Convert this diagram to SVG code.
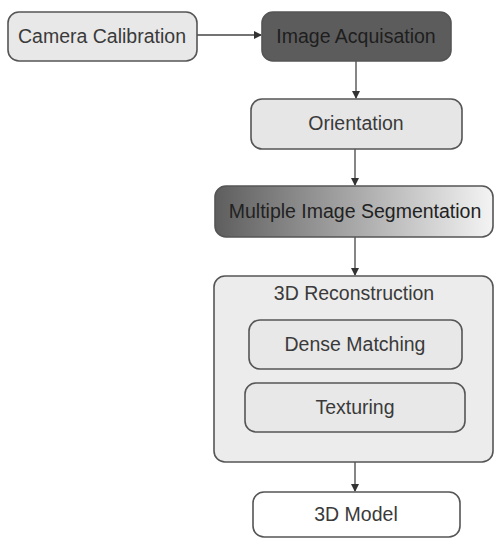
<svg xmlns="http://www.w3.org/2000/svg" width="494" height="538" viewBox="0 0 494 538">
<defs>
<linearGradient id="seg" x1="0" y1="0" x2="1" y2="0">
<stop offset="0" stop-color="#5e5e5e"/>
<stop offset="0.5" stop-color="#a8a8a8"/>
<stop offset="1" stop-color="#f4f4f4"/>
</linearGradient>
<marker id="ah" markerWidth="8" markerHeight="8" refX="7" refY="4" orient="auto" markerUnits="userSpaceOnUse">
<path d="M0,0 L8,4 L0,8 Z" fill="#333"/>
</marker>
<style>
.box{stroke:#555;stroke-width:1.6}
.t{font-family:"Liberation Sans",Arial,sans-serif;font-size:19.5px;fill:#3a3a3a;text-anchor:middle;dominant-baseline:central}
.c{stroke:#444;stroke-width:1.3;fill:none;marker-end:url(#ah)}
</style>
</defs>
<rect width="494" height="538" fill="#ffffff"/>
<g id="connectors">
<line class="c" x1="197" y1="35" x2="261" y2="35"/>
<line class="c" x1="356" y1="61" x2="356" y2="98"/>
<line class="c" x1="355" y1="149" x2="355" y2="185"/>
<line class="c" x1="355" y1="237" x2="355" y2="275"/>
<line class="c" x1="355" y1="462" x2="355" y2="491"/>
</g>
<g id="camera-calibration">
<rect class="box" x="8" y="12" width="189" height="49" rx="11" fill="#e8e8e8"/>
<text class="t" x="102" y="36">Camera Calibration</text>
</g>
<g id="image-acquisation">
<rect class="box" x="262" y="12" width="189" height="49" rx="11" fill="#5c5c5c"/>
<text class="t" x="356" y="36" style="fill:#1e1e1e">Image Acquisation</text>
</g>
<g id="orientation">
<rect class="box" x="251" y="99" width="211" height="50" rx="11" fill="#e6e6e6"/>
<text class="t" x="356" y="123">Orientation</text>
</g>
<g id="multiple-image-segmentation">
<rect class="box" x="215" y="186" width="278" height="51" rx="11" fill="url(#seg)"/>
<text class="t" x="355" y="211" style="fill:#222">Multiple Image Segmentation</text>
</g>
<g id="reconstruction">
<rect class="box" x="214" y="276" width="279" height="186" rx="11" fill="#ececec"/>
<text class="t" x="354" y="293">3D Reconstruction</text>
</g>
<g id="dense-matching">
<rect class="box" x="249" y="320" width="213" height="49" rx="11" fill="#e8e8e8"/>
<text class="t" x="355" y="344">Dense Matching</text>
</g>
<g id="texturing">
<rect class="box" x="245" y="383" width="220" height="49" rx="11" fill="#e8e8e8"/>
<text class="t" x="355" y="407">Texturing</text>
</g>
<g id="model-3d">
<rect class="box" x="253" y="492" width="207" height="45" rx="11" fill="#ffffff"/>
<text class="t" x="356" y="514">3D Model</text>
</g>
</svg>
